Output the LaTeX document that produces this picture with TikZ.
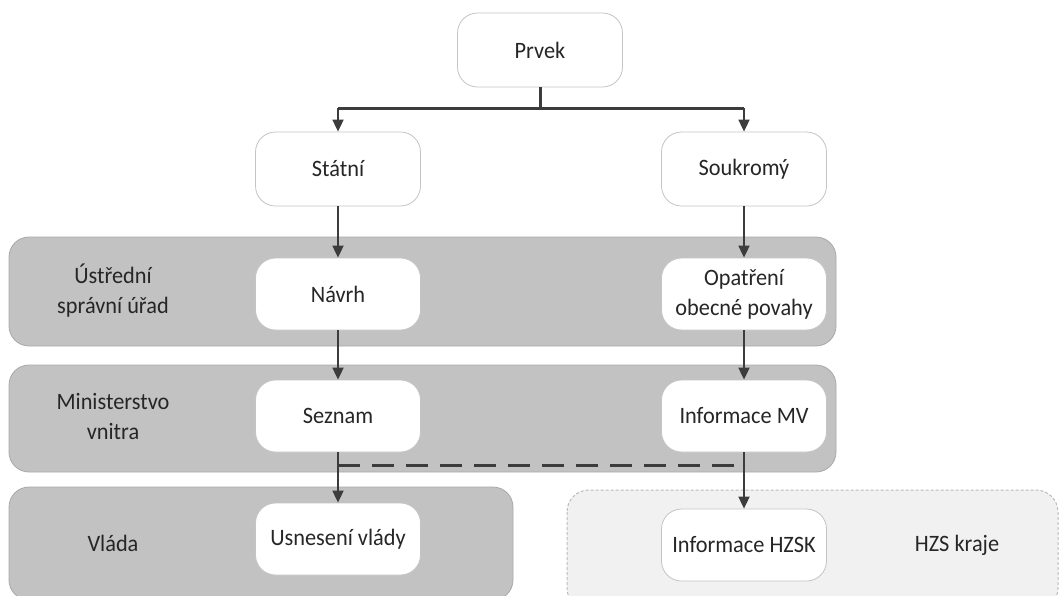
\documentclass[tikz,border=0pt]{standalone}
\usepackage{fontspec}
\setmainfont{Carlito}[FakeStretch=0.95]
\usetikzlibrary{arrows.meta,positioning}
\definecolor{bandgray}{HTML}{C2C2C2}
\definecolor{bandline}{HTML}{A9A9A9}
\definecolor{boxline}{HTML}{C4C4C4}
\definecolor{arrowc}{HTML}{3C3C3C}
\definecolor{lightband}{HTML}{F1F1F1}
\tikzset{
  x=1pt, y=-1pt,
  every node/.style={font=\fontsize{23.5}{30}\selectfont, text=black!85},
  itembox/.style={draw=boxline, line width=0.8pt, fill=white, rounded corners=20pt,
    minimum width=165pt, minimum height=74pt, align=center, inner sep=0pt},
  band/.style={draw=bandline, line width=0.8pt, fill=bandgray, rounded corners=20pt},
  bandlabel/.style={align=center},
  flow/.style={draw=arrowc, line width=1.8pt, -{Triangle[length=12pt,width=11pt]}},
  trunk/.style={draw=arrowc, line width=3pt},
  link/.style={draw=arrowc, line width=3pt, dash pattern=on 22pt off 12pt}
}
\begin{document}
\begin{tikzpicture}
\useasboundingbox (0,0) rectangle (1060,595);

% horizontal bands
\draw[band] (9,237) rectangle (836,346);
\draw[band] (9,365) rectangle (836,472);
\draw[band] (9,487) rectangle (513,600);
\draw[draw=bandline!80, fill=lightband, line width=1pt, dash pattern=on 3pt off 2pt,
  rounded corners=22pt] (567,490) rectangle (1058,610);

% band labels
\node[bandlabel] (lab1) at (113,291) {Ústřední\\správní úřad};
\node[bandlabel] (lab2) at (113,416) {Ministerstvo\\vnitra};
\node[bandlabel] (lab3) at (113,543) {Vláda};
\node[bandlabel] (lab4) at (957,545) {HZS kraje};

% boxes
\node[itembox] (prvek) at (540,50) {Prvek};
\node[itembox] (statni) at (338,169) {Státní};
\node[itembox] (soukr) at (744,169) {Soukromý};
\node[itembox, minimum height=72pt] (navrh) at (338,294) {Návrh};
\node[itembox, minimum height=72pt] (opat) at (744,294) {Opatření\\obecné povahy};
\node[itembox, minimum height=72pt] (seznam) at (338,416) {Seznam};
\node[itembox, minimum height=72pt] (infomv) at (744,416) {Informace MV};
\node[itembox, minimum height=72pt] (usnes) at (338,539) {Usnesení vlády};
\node[itembox, minimum height=72pt] (hzsk) at (744,545) {Informace HZSK};

% branching from the top element
\coordinate (fork) at (prvek.south |- 0,108);
\draw[trunk] (prvek.south) -- (fork);
\draw[trunk] (statni.north |- fork) -- (soukr.north |- fork);
\draw[flow] (statni.north |- fork) -- (statni.north);
\draw[flow] (soukr.north |- fork) -- (soukr.north);

% vertical flows
\draw[flow] (statni) -- (navrh);
\draw[flow] (soukr) -- (opat);
\draw[flow] (navrh) -- (seznam);
\draw[flow] (opat) -- (infomv);
\draw[flow] (seznam) -- (usnes);
\draw[flow] (infomv) -- (hzsk);

% dashed cross link
\coordinate (dl) at (seznam.south |- 0,465);
\coordinate (dr) at (infomv.south |- 0,465);
\draw[link] (dl) -- (dr);
\draw[draw=arrowc, line width=1.8pt] ([yshift=-7pt]dr) -- ([yshift=7pt]dr);
\end{tikzpicture}
\end{document}
